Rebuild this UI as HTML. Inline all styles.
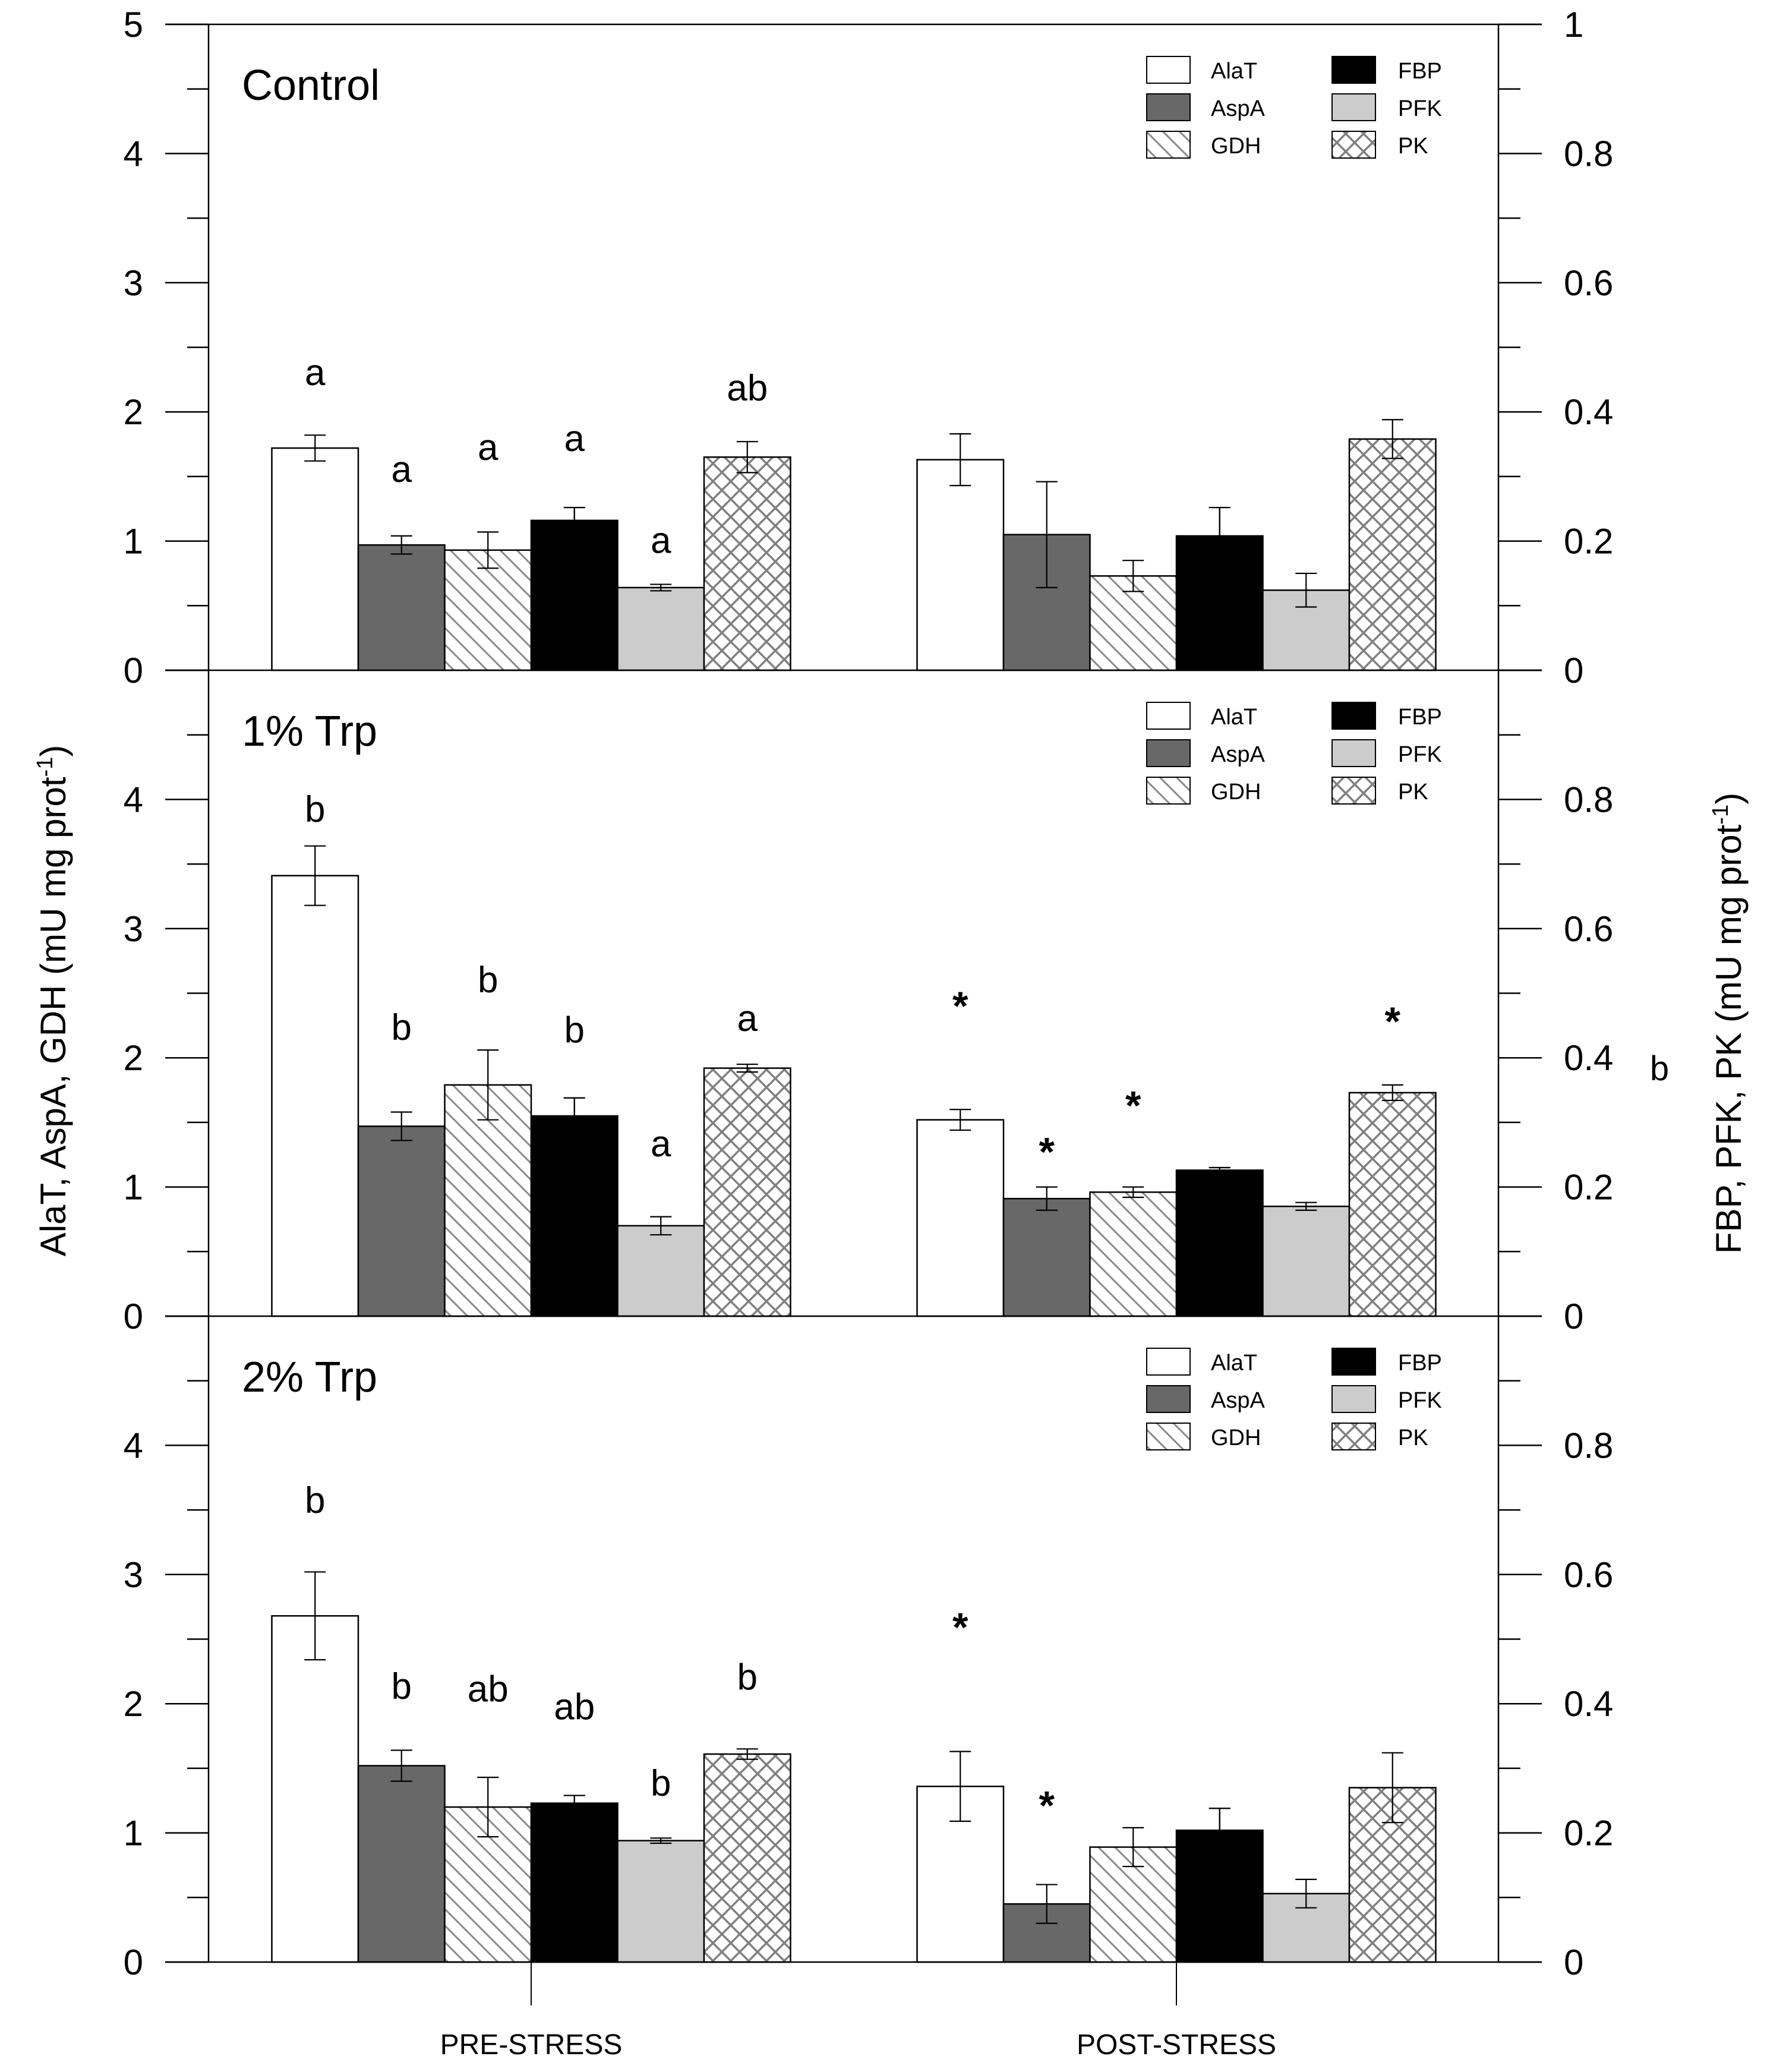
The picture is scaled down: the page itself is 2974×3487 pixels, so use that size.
<!DOCTYPE html>
<html><head><meta charset="utf-8"><style>
html,body{margin:0;padding:0;background:#fff;}
svg{display:block;font-family:"Liberation Sans",Arial,sans-serif;}
</style></head><body>
<svg id="chart" width="2974" height="3487" viewBox="0 0 2974 3487" xmlns="http://www.w3.org/2000/svg">
<defs>
<pattern id="hatchGDH" patternUnits="userSpaceOnUse" width="28" height="28">
<rect width="28" height="28" fill="#fff"/>
<path d="M-7,-7 L35,35 M-7,21 L7,35 M21,-7 L35,7" stroke="#8a8a8a" stroke-width="3"/>
</pattern>
<pattern id="hatchPK" patternUnits="userSpaceOnUse" width="30" height="30">
<rect width="30" height="30" fill="#fff"/>
<path d="M0,0 L30,30 M30,0 L0,30" stroke="#808080" stroke-width="3.5"/>
</pattern>
</defs>
<g id="layer"></g>
</svg>
<script>
const series = ["AlaT","AspA","GDH","FBP","PFK","PK"];
const panelNames = ["Control","1% Trp","2% Trp"];
const groups = ["PRE-STRESS","POST-STRESS"];
// values; AlaT/AspA/GDH in left-axis units, FBP/PFK/PK in right-axis units
const ctrlPre  = [1.72,0.97,0.93,0.232,0.128,0.330];
const ctrlPreErr=[0.10,0.07,0.14,0.020,0.005,0.024];
const ctrlPost = [1.63,1.05,0.73,0.208,0.124,0.358];
const ctrlPostErr=[0.20,0.41,0.12,0.044,0.026,0.030];
const trp1Pre  = [3.41,1.47,1.79,0.310,0.140,0.384];
const trp1PreErr=[0.23,0.11,0.27,0.028,0.014,0.006];
const trp1Post = [1.52,0.91,0.96,0.226,0.170,0.346];
const trp1PostErr=[0.08,0.09,0.04,0.004,0.006,0.012];
const trp2Pre  = [2.68,1.52,1.20,0.246,0.188,0.322];
const trp2PreErr=[0.34,0.12,0.23,0.012,0.004,0.008];
const trp2Post = [1.36,0.45,0.89,0.204,0.106,0.270];
const trp2PostErr=[0.27,0.15,0.15,0.034,0.022,0.054];
// annotation labels and their vertical position (left-axis units)
const ctrlPreLbl = ["a","a","a","a","a","ab"];
const ctrlPreLblY = [2.30,1.55,1.72,1.79,1.00,2.18];
const trp1PreLbl = ["b","b","b","b","a","a"];
const trp1PreLblY = [3.92,2.23,2.60,2.21,1.33,2.30];
const trp1PostLbl = ["*","*","*","","","*"];
const trp1PostLblY = [2.47,1.34,1.70,0,0,2.35];
const trp2PreLbl = ["b","b","ab","ab","b","b"];
const trp2PreLblY = [3.57,2.13,2.11,1.97,1.38,2.20];
const trp2PostLbl = ["*","*","","","",""];
const trp2PostLblY = [2.66,1.28,0,0,0,0];
const leftTicks = ["0","1","2","3","4","5"];
const rightTicks = ["0","0.2","0.4","0.6","0.8","1"];

const panels = [
 {pre:ctrlPre,preE:ctrlPreErr,post:ctrlPost,postE:ctrlPostErr,preL:ctrlPreLbl,preLY:ctrlPreLblY,postL:[],postLY:[]},
 {pre:trp1Pre,preE:trp1PreErr,post:trp1Post,postE:trp1PostErr,preL:trp1PreLbl,preLY:trp1PreLblY,postL:trp1PostLbl,postLY:trp1PostLblY},
 {pre:trp2Pre,preE:trp2PreErr,post:trp2Post,postE:trp2PostErr,preL:trp2PreLbl,preLY:trp2PreLblY,postL:trp2PostLbl,postLY:trp2PostLblY}
];
const fills = ["#ffffff","#686868","url(#hatchGDH)","#000000","#cccccc","url(#hatchPK)"];
const NS="http://www.w3.org/2000/svg";
const layer=document.getElementById('layer');
function mk(tag,attrs,parent){const e=document.createElementNS(NS,tag);for(const k in attrs)e.setAttribute(k,attrs[k]);(parent||layer).appendChild(e);return e;}
const L=351,R=2522,TOP=41,PH=1087,UNIT=PH/5,BW=145.5;
const groupCenters=[894,1980];
function zeroY(p){return TOP+PH*(p+1);}
function yL(p,v){return zeroY(p)-v*UNIT;}
function toLeft(i,v){return i>=3?v*5:v;}
function xBar(g,i){return groupCenters[g]-3*BW+i*BW;}

for(let p=0;p<3;p++){
  const z=zeroY(p);
  const pg=mk('g',{});
  
  
  const t=mk('text',{x:407,y:zeroY(p)-PH+127,'font-size':72},pg);
  t.textContent=panelNames[p];
  
  
  // bars
  [[panels[p].pre,panels[p].preE],[panels[p].post,panels[p].postE]].forEach((d,g)=>{
    for(let i=0;i<6;i++){
      const v=toLeft(i,d[0][i]),e=toLeft(i,d[1][i]);
      const x=xBar(g,i),yt=yL(p,v);
      const r=mk('rect',{x:x,y:yt,width:BW,height:z-yt,fill:fills[i],stroke:'#000','stroke-width':2.5},pg);
      
      
      const cx=x+BW/2,y1=yL(p,v+e),y2=yL(p,v-e),c=18;
      const eb=mk('path',{d:`M${cx},${y1}V${y2}M${cx-c},${y1}H${cx+c}M${cx-c},${y2}H${cx+c}`,stroke:(i===3?'#000':'#000'),'stroke-width':2.2,fill:'none'},pg);
      
      
      if(i===3){mk('path',{d:`M${cx},${y1}V${yt}M${cx-c},${y1}H${cx+c}`,stroke:'#000','stroke-width':2.2},pg);}
    }
  });
  // annotations
  [[panels[p].preL,panels[p].preLY],[panels[p].postL,panels[p].postLY]].forEach((d,g)=>{
    for(let i=0;i<d[0].length;i++){
      if(!d[0][i])continue;
      const star=d[0][i]==='*';
      const a=mk('text',{x:xBar(g,i)+BW/2,y:yL(p,d[1][i])+(star?38:20),'text-anchor':'middle','font-size':star?68:62,'font-weight':star?'bold':'normal'},pg);
      a.textContent=d[0][i];
      
      
    }
  });
  // legend
  const lg=mk('g',{},pg);
  
  
  for(let i=0;i<6;i++){
    const col=Math.floor(i/3),row=i%3;
    const bx=col?2242:1930,by=zeroY(p)-PH+54+row*63;
    const lr=mk('rect',{x:bx,y:by,width:73,height:45,fill:fills[i],stroke:'#000','stroke-width':2},lg);
    
    
    const lt=mk('text',{x:col?2353:2038,y:by+37,'font-size':38},lg);
    lt.textContent=series[i];
    
    
  }
  // ticks
  const maxT=p===0?5:4;
  for(let k=0;k<=10;k++){
    const y=yL(p,k/2),major=k%2===0;
    mk('line',{x1:major?278:315,x2:L,y1:y,y2:y,stroke:'#000','stroke-width':2.5},pg);
    mk('line',{x1:R,x2:major?2595:2559,y1:y,y2:y,stroke:'#000','stroke-width':2.5},pg);
    if(major && k/2<=maxT){
      const lt=mk('text',{x:241,y:y+21,'text-anchor':'end','font-size':60},pg);
      lt.textContent=leftTicks[k/2];
      
      
      const rt=mk('text',{x:2632,y:y+21,'font-size':60},pg);
      rt.textContent=rightTicks[k/2];
      
      
    }
  }
  mk('line',{x1:278,x2:2595,y1:z,y2:z,stroke:'#000','stroke-width':2.5},pg);
}
// axes
mk('line',{x1:278,x2:2595,y1:TOP,y2:TOP,stroke:'#000','stroke-width':2.5});
mk('line',{x1:L,x2:L,y1:TOP,y2:zeroY(2),stroke:'#000','stroke-width':2.5});
mk('line',{x1:R,x2:R,y1:TOP,y2:zeroY(2),stroke:'#000','stroke-width':2.5});
groups.forEach((g,i)=>{
  mk('line',{x1:groupCenters[i],x2:groupCenters[i],y1:zeroY(2),y2:3375,stroke:'#000','stroke-width':2});
  const t=mk('text',{x:groupCenters[i],y:3457,'text-anchor':'middle','font-size':48});
  t.textContent=g;
  
  
});
</script>
<svg style="position:absolute;left:0;top:0" width="2974" height="3487">
<text transform="translate(110,1684) rotate(-90)" text-anchor="middle" font-size="60" font-family="Liberation Sans, sans-serif">AlaT, AspA, GDH (mU mg prot<tspan dy="-22" font-size="38">-1</tspan><tspan dy="22">)</tspan></text>
<text transform="translate(2930,1722) rotate(-90)" text-anchor="middle" font-size="60" font-family="Liberation Sans, sans-serif">FBP, PFK, PK (mU mg prot<tspan dy="-22" font-size="38">-1</tspan><tspan dy="22">)</tspan></text>
<text x="2793" y="1818" text-anchor="middle" font-size="58" font-family="Liberation Sans, sans-serif">b</text>
</svg>
</body></html>
